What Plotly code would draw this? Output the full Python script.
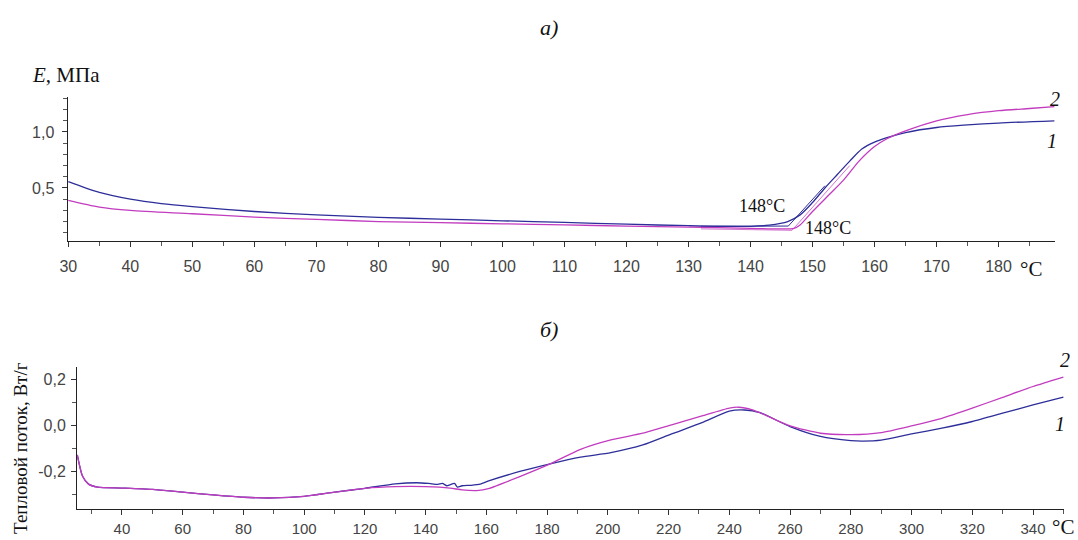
import plotly.graph_objects as go

# ---------- data: panel a) modulus E, MPa ----------
top_x_1 = [30, 35, 40, 45, 50, 60, 70, 80, 90, 100, 110, 120, 130, 140, 143, 146, 148, 150, 152, 154, 156, 158, 160, 162, 165, 170, 175, 180, 189]
top_y_1 = [0.556, 0.46, 0.40, 0.36, 0.333, 0.29, 0.26, 0.238, 0.222, 0.207, 0.192, 0.177, 0.163, 0.158, 0.168, 0.20, 0.26, 0.37, 0.50, 0.62, 0.74, 0.85, 0.91, 0.95, 0.995, 1.04, 1.063, 1.08, 1.10]
top_x_2 = [30, 35, 40, 50, 60, 70, 80, 90, 100, 110, 120, 130, 140, 145, 147, 148, 150, 152.5, 155, 157.5, 160, 162, 165, 170, 175, 180, 185, 189]
top_y_2 = [0.39, 0.33, 0.30, 0.27, 0.24, 0.22, 0.20, 0.19, 0.18, 0.17, 0.16, 0.15, 0.14, 0.135, 0.14, 0.17, 0.29, 0.43, 0.57, 0.74, 0.87, 0.94, 1.01, 1.10, 1.155, 1.19, 1.21, 1.226]
# onset construction lines (baseline + tangent)
onset_x_1 = [132, 146.1, 152]
onset_y_1 = [0.157, 0.16, 0.52]
onset_x_2 = [132, 146.7, 156]
onset_y_2 = [0.135, 0.122, 0.70]

# ---------- data: panel б) heat flow, W/g ----------
bot_x_1 = [25.3, 27, 29, 32, 40, 50, 60, 70, 80, 90, 100, 110, 120, 130, 137, 141, 144, 145.5, 147, 148, 149.5, 150.5, 152, 155, 158, 161, 171, 181, 191, 201, 211.5, 221, 231, 240, 245, 250, 260, 270, 280, 284, 290, 300, 310, 320, 330, 340, 350]
bot_y_1 = [-0.128, -0.22, -0.255, -0.268, -0.272, -0.278, -0.29, -0.302, -0.312, -0.315, -0.308, -0.29, -0.273, -0.254, -0.249, -0.252, -0.256, -0.252, -0.262, -0.258, -0.252, -0.268, -0.262, -0.26, -0.255, -0.24, -0.20, -0.167, -0.138, -0.118, -0.085, -0.037, 0.012, 0.062, 0.067, 0.056, -0.005, -0.048, -0.066, -0.068, -0.064, -0.037, -0.012, 0.017, 0.053, 0.089, 0.123]
bot_x_2 = [25.3, 27, 29, 32, 40, 50, 60, 70, 80, 90, 100, 110, 120, 130, 140, 148, 152, 156.8, 161, 171, 181, 191, 201, 211.5, 221, 231, 240, 243, 247.6, 250, 260, 270, 280, 290, 300, 310, 320, 330, 340, 350]
bot_y_2 = [-0.128, -0.22, -0.255, -0.268, -0.272, -0.278, -0.29, -0.302, -0.312, -0.315, -0.308, -0.29, -0.273, -0.266, -0.266, -0.272, -0.28, -0.283, -0.273, -0.222, -0.167, -0.104, -0.063, -0.034, 0.002, 0.041, 0.075, 0.079, 0.068, 0.056, -0.002, -0.034, -0.04, -0.031, -0.002, 0.031, 0.075, 0.122, 0.169, 0.21]

top_xticks = list(range(30, 190, 10))
top_yticks = [0.5, 1.0]
top_yticktext = ["0,5", "1,0"]
bot_xticks = list(range(40, 350, 20))
bot_yticks = [-0.2, 0.0, 0.2]
bot_yticktext = ["-0,2", "0,0", "0,2"]

BLUE = "#2e2e9a"
PINK = "#c23cbf"
W, H = 1078, 540

fig = go.Figure()
fig.add_trace(go.Scatter(x=onset_x_1, y=onset_y_1, mode="lines", line=dict(color=BLUE, width=1), xaxis="x", yaxis="y", showlegend=False))
fig.add_trace(go.Scatter(x=onset_x_2, y=onset_y_2, mode="lines", line=dict(color=PINK, width=1), xaxis="x", yaxis="y", showlegend=False, opacity=0.7))
fig.add_trace(go.Scatter(x=top_x_1, y=top_y_1, mode="lines", line=dict(color=BLUE, width=1.3, shape="spline", smoothing=0.8), xaxis="x", yaxis="y", showlegend=False))
fig.add_trace(go.Scatter(x=top_x_2, y=top_y_2, mode="lines", line=dict(color=PINK, width=1.3, shape="spline", smoothing=0.8), xaxis="x", yaxis="y", showlegend=False))
fig.add_trace(go.Scatter(x=bot_x_1, y=bot_y_1, mode="lines", line=dict(color=BLUE, width=1.3, shape="spline", smoothing=0.6), xaxis="x2", yaxis="y2", showlegend=False))
fig.add_trace(go.Scatter(x=bot_x_2, y=bot_y_2, mode="lines", line=dict(color=PINK, width=1.3, shape="spline", smoothing=0.6), xaxis="x2", yaxis="y2", showlegend=False))

tickfont = dict(family="Liberation Sans, Arial", size=16, color="#444")
axis_common = dict(showgrid=False, zeroline=False, showline=True, linecolor="#222", linewidth=1,
                   ticks="outside", ticklen=5, tickcolor="#333", automargin=False)

def px_x(p):
    return p / W

def px_y(p):
    return 1 - p / H

fig.update_layout(
    width=W, height=H, margin=dict(l=0, r=0, t=0, b=0, autoexpand=False),
    paper_bgcolor="white", plot_bgcolor="white", showlegend=False,
    xaxis=dict(domain=[px_x(67.5), px_x(1055)], range=[29.87, 189.1], anchor="y",
               tickvals=top_xticks, ticklabelstandoff=6, tickfont=tickfont,
               minor=dict(dtick=5, tick0=30, ticks="outside", ticklen=4, tickcolor="#555"),
               **axis_common),
    yaxis=dict(domain=[px_y(240.5), px_y(97)], range=[0.031, 1.3125], anchor="x",
               tickvals=top_yticks, ticktext=top_yticktext, ticklabelstandoff=4, tickfont=tickfont,
               minor=dict(dtick=0.1, tick0=0, ticks="outside", ticklen=4, tickcolor="#555"),
               **axis_common),
    xaxis2=dict(domain=[px_x(77), px_x(1064)], range=[25.2, 350.2], anchor="y2",
                tickvals=bot_xticks, ticklabelstandoff=1, tickfont=dict(tickfont, size=15),
                minor=dict(dtick=10, tick0=30, ticks="outside", ticklen=4, tickcolor="#555"),
                **axis_common),
    yaxis2=dict(domain=[px_y(509), px_y(366.7)], range=[-0.363, 0.255], anchor="x2",
                tickvals=bot_yticks, ticktext=bot_yticktext, ticklabelstandoff=2, tickfont=tickfont,
                minor=dict(dtick=0.1, tick0=0, ticks="outside", ticklen=4, tickcolor="#555"),
                **axis_common),
)

serif = "Liberation Serif, Times New Roman, serif"

def ann(text, x, y, size, angle=0, xanchor="center"):
    fig.add_annotation(text=text, x=px_x(x), y=px_y(y), xref="paper", yref="paper",
                       showarrow=False, xanchor=xanchor, yanchor="middle", textangle=angle,
                       font=dict(family=serif, size=size, color="#111"))

ann("<i>а)</i>", 549, 27, 22)
ann("<i>E</i>, МПа", 30, 75, 21, xanchor="left")
ann("<i>2</i>", 1055, 99, 20)
ann("<i>1</i>", 1052, 141, 20)
ann("148°C", 762, 206, 18)
ann("148°C", 828, 228, 18)
ann("°C", 1031, 269, 21)
ann("<i>б)</i>", 549, 329, 22)
ann("<i>2</i>", 1065, 360, 20)
ann("<i>1</i>", 1060, 424, 20)
ann("°C", 1063, 527, 21)
ann("Тепловой поток, Вт/г", 20, 448, 19, angle=-90)

fig.write_html("out.html", config={"displayModeBar": False},
               post_script="document.body.style.margin='0px';document.body.style.overflow='hidden';")
